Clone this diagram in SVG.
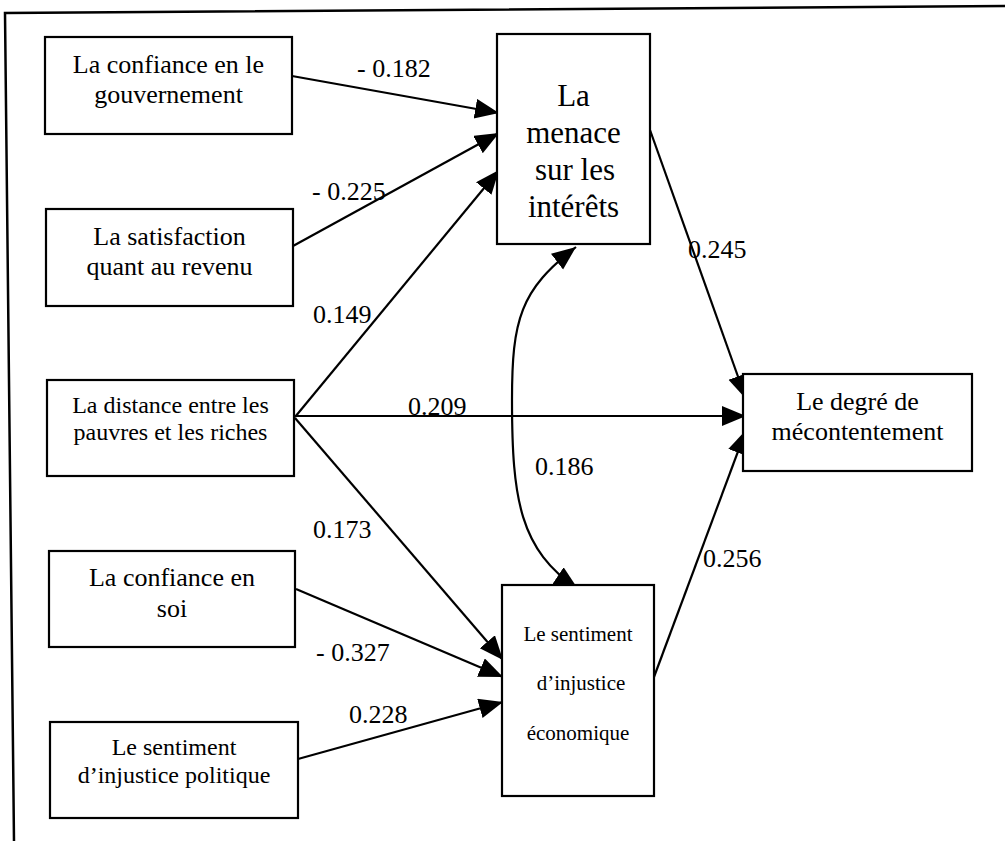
<svg xmlns="http://www.w3.org/2000/svg" width="1005" height="841" viewBox="0 0 1005 841">
<defs>
<style>
.box{fill:#fff;stroke:#000;stroke-width:2.2}
.t{font-family:"Liberation Serif","Times New Roman",serif;fill:#000;text-anchor:middle}
.f26{font-size:26px}
.f24{font-size:24px}
.f31{font-size:31px}
.f21{font-size:21px}
.lbl{font-family:"Liberation Serif","Times New Roman",serif;font-size:26px;fill:#000}
.ln{fill:none;stroke:#000;stroke-width:2.2}
</style>
<marker id="ah" markerUnits="userSpaceOnUse" markerWidth="26" markerHeight="22" refX="24" refY="10" orient="auto-start-reverse" viewBox="0 0 26 22">
<path d="M0,0 L24,10 L0,20 z" fill="#000"/>
</marker>
</defs>
<rect width="1005" height="841" fill="#fff"/>
<g id="frame">
<path d="M14,841 L5,13 L1005,6" fill="none" stroke="#000" stroke-width="2.5"/>
</g>
<g id="connectors">
<line class="ln" x1="292" y1="76" x2="499" y2="113" marker-end="url(#ah)"/>
<line class="ln" x1="293" y1="246" x2="499" y2="133" marker-end="url(#ah)"/>
<line class="ln" x1="295" y1="417" x2="499" y2="170" marker-end="url(#ah)"/>
<line class="ln" x1="295" y1="416" x2="746" y2="416" marker-end="url(#ah)"/>
<line class="ln" x1="295" y1="418" x2="503" y2="660" marker-end="url(#ah)"/>
<line class="ln" x1="296" y1="589" x2="503" y2="677" marker-end="url(#ah)"/>
<line class="ln" x1="298" y1="759" x2="503" y2="702" marker-end="url(#ah)"/>
<line class="ln" x1="650" y1="130" x2="746" y2="399" marker-end="url(#ah)"/>
<line class="ln" x1="654" y1="677" x2="746" y2="430" marker-end="url(#ah)"/>
<path class="ln" d="M576,247 C520,290 512,320 512,400 C512,500 520,550 578,589" marker-start="url(#ah)" marker-end="url(#ah)"/>
</g>
<g id="labels" font-family="Liberation Serif, Times New Roman, serif">
<text class="lbl" x="357" y="77">- 0.182</text>
<text class="lbl" x="312" y="200">- 0.225</text>
<text class="lbl" x="313" y="323">0.149</text>
<text class="lbl" x="408" y="415">0.209</text>
<text class="lbl" x="313" y="538">0.173</text>
<text class="lbl" x="316" y="661">- 0.327</text>
<text class="lbl" x="349" y="723">0.228</text>
<text class="lbl" x="688" y="258">0.245</text>
<text class="lbl" x="535" y="475">0.186</text>
<text class="lbl" x="703" y="567">0.256</text>
</g>
<g id="n-gouvernement" font-family="Liberation Serif, Times New Roman, serif">
<rect class="box" x="45" y="37" width="247" height="97"/>
<text class="t f26" x="168.5" y="73">La confiance en le</text>
<text class="t f26" x="168.5" y="103">gouvernement</text>
</g>
<g id="n-revenu" font-family="Liberation Serif, Times New Roman, serif">
<rect class="box" x="46" y="209" width="247" height="97"/>
<text class="t f26" x="169.5" y="245">La satisfaction</text>
<text class="t f26" x="169.5" y="275">quant au revenu</text>
</g>
<g id="n-distance" font-family="Liberation Serif, Times New Roman, serif">
<rect class="box" x="47" y="380" width="247" height="96"/>
<text class="t f24" x="170.5" y="413">La distance entre les</text>
<text class="t f24" x="170.5" y="440">pauvres et les riches</text>
</g>
<g id="n-soi" font-family="Liberation Serif, Times New Roman, serif">
<rect class="box" x="49" y="551" width="246" height="96"/>
<text class="t f26" x="172" y="586">La confiance en</text>
<text class="t f26" x="172" y="617">soi</text>
</g>
<g id="n-politique" font-family="Liberation Serif, Times New Roman, serif">
<rect class="box" x="50" y="722" width="248" height="96"/>
<text class="t f24" x="174" y="755">Le sentiment</text>
<text class="t f24" x="174" y="783">d’injustice politique</text>
</g>
<g id="n-menace" font-family="Liberation Serif, Times New Roman, serif">
<rect class="box" x="497" y="34" width="153" height="210"/>
<text class="t f31" x="573.5" y="106">La</text>
<text class="t f31" x="573.5" y="143">menace</text>
<text class="t f31" x="575" y="180">sur les</text>
<text class="t f31" x="573.5" y="217">intérêts</text>
</g>
<g id="n-mecontentement" font-family="Liberation Serif, Times New Roman, serif">
<rect class="box" x="743" y="374" width="229" height="97"/>
<text class="t f26" x="857.5" y="410">Le degré de</text>
<text class="t f26" x="857.5" y="440">mécontentement</text>
</g>
<g id="n-economique" font-family="Liberation Serif, Times New Roman, serif">
<rect class="box" x="502" y="585" width="152" height="211"/>
<text class="t f21" x="578" y="641">Le sentiment</text>
<text class="t f21" x="581" y="690">d’injustice</text>
<text class="t f21" x="578" y="740">économique</text>
</g>
</svg>
